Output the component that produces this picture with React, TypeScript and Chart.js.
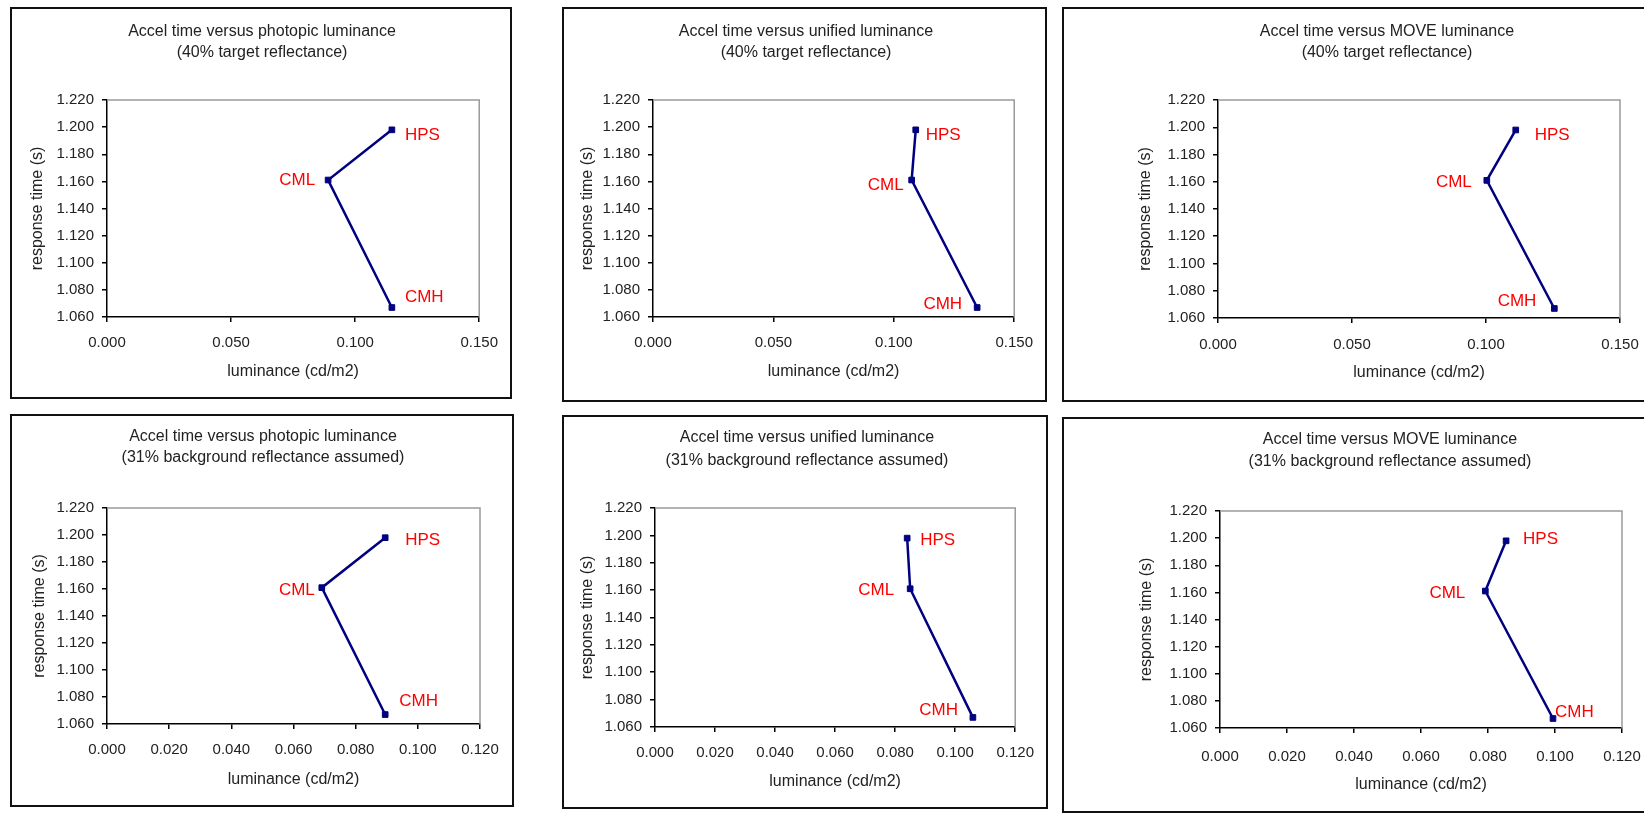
import React, { useEffect, useRef } from 'react';
import { Chart, registerables } from 'chart.js';

Chart.register(...registerables);

// ---------- data ----------
const pointNames = ['HPS', 'CML', 'CMH'];
const responseTimes = [1.198, 1.161, 1.067];

const photopic40 = [0.1148, 0.0891, 0.1148];
const unified40 = [0.1091, 0.1074, 0.1346];
const move40 = [0.1111, 0.1003, 0.1255];
const photopic31 = [0.0895, 0.0691, 0.0895];
const unified31 = [0.084, 0.085, 0.1059];
const move31 = [0.0854, 0.0792, 0.0994];

const yTickValues = [1.06, 1.08, 1.1, 1.12, 1.14, 1.16, 1.18, 1.2, 1.22];
const xTicks40 = [0, 0.05, 0.1, 0.15];
const xTicks31 = [0, 0.02, 0.04, 0.06, 0.08, 0.1, 0.12];

const titleTop40 = [
  'Accel time versus photopic luminance',
  'Accel time versus unified luminance',
  'Accel time versus MOVE luminance',
];
const subtitle40 = '(40% target reflectance)';
const subtitle31 = '(31% background reflectance assumed)';
const xAxisTitle = 'luminance (cd/m2)';
const yAxisTitle = 'response time (s)';

// ---------- layout / style ----------
type Offset = [number, number, CanvasTextAlign];
type Panel = {
  title: string[];
  xs: number[];
  xTicks: number[];
  box: [number, number, number, number];
  plot: [number, number, number, number];
  titlePos: [number, number, number];
  yTitleX: number;
  xTickY: number;
  xTitleY: number;
  offsets: Offset[];
};

const panels: Panel[] = [
  {
    title: [titleTop40[0], subtitle40], xs: photopic40, xTicks: xTicks40,
    box: [10, 7, 502, 392], plot: [107, 100, 480, 317], titlePos: [262, 32, 53],
    yTitleX: 38, xTickY: 343, xTitleY: 372,
    offsets: [[13, 5, 'left'], [-13, 0, 'right'], [13, -10, 'left']],
  },
  {
    title: [titleTop40[1], subtitle40], xs: unified40, xTicks: xTicks40,
    box: [562, 7, 485, 395], plot: [653, 100, 1017, 317], titlePos: [806, 32, 53],
    yTitleX: 588, xTickY: 343, xTitleY: 372,
    offsets: [[10, 5, 'left'], [-8, 5, 'right'], [-15, -3, 'right']],
  },
  {
    title: [titleTop40[2], subtitle40], xs: move40, xTicks: xTicks40,
    box: [1062, 7, 638, 395], plot: [1218, 100, 1620, 318], titlePos: [1387, 32, 53],
    yTitleX: 1146, xTickY: 345, xTitleY: 373,
    offsets: [[19, 5, 'left'], [-15, 2, 'right'], [-18, -7, 'right']],
  },
  {
    title: [titleTop40[0], subtitle31], xs: photopic31, xTicks: xTicks31,
    box: [10, 414, 504, 393], plot: [107, 508, 480, 724], titlePos: [263, 437, 458],
    yTitleX: 40, xTickY: 750, xTitleY: 780,
    offsets: [[20, 3, 'left'], [-7, 3, 'right'], [14, -13, 'left']],
  },
  {
    title: [titleTop40[1], subtitle31], xs: unified31, xTicks: xTicks31,
    box: [562, 415, 486, 394], plot: [655, 508, 1018, 727], titlePos: [807, 438, 461],
    yTitleX: 588, xTickY: 753, xTitleY: 782,
    offsets: [[13, 2, 'left'], [-16, 2, 'right'], [-15, -7, 'right']],
  },
  {
    title: [titleTop40[2], subtitle31], xs: move31, xTicks: xTicks31,
    box: [1062, 417, 638, 396], plot: [1220, 511, 1622, 728], titlePos: [1390, 440, 462],
    yTitleX: 1147, xTickY: 757, xTitleY: 785,
    offsets: [[17, -2, 'left'], [-20, 2, 'right'], [2, -6, 'left']],
  },
];

const FONT = "'Liberation Sans', Arial, Helvetica, sans-serif";
const TEXT = '#222222';
const NAVY = '#000080';
const RED = '#ff0000';
const BORDER = 2;
const TICK_LEN = 5;

function ChartPanel({ p }: { p: Panel }) {
  const ref = useRef<HTMLCanvasElement>(null);

  useEffect(() => {
    const canvas = ref.current;
    if (!canvas) return;
    const [bx, by, bw, bh] = p.box;
    const cx = bx + BORDER;
    const cy = by + BORDER;
    const cw = bw - 2 * BORDER;
    const ch = bh - 2 * BORDER;
    const [pl, pt, pr, pb] = p.plot;

    const tickFont = 15;
    const titleFont = 16;
    const titleLH = titleFont * 1.2;

    const framePlugin = {
      id: 'frame',
      beforeDatasetsDraw(chart: any) {
        const { ctx, chartArea: a } = chart;
        ctx.save();
        ctx.strokeStyle = '#9a9a9a';
        ctx.lineWidth = 1.5;
        ctx.beginPath();
        ctx.moveTo(a.left, a.top);
        ctx.lineTo(a.right, a.top);
        ctx.lineTo(a.right, a.bottom);
        ctx.stroke();
        ctx.restore();
      },
    };

    const labelPlugin = {
      id: 'pointLabels',
      afterDatasetsDraw(chart: any) {
        const { ctx } = chart;
        const meta = chart.getDatasetMeta(0);
        ctx.save();
        ctx.font = `17px ${FONT}`;
        ctx.fillStyle = RED;
        ctx.textBaseline = 'middle';
        meta.data.forEach((el: any, i: number) => {
          const [dx, dy, align] = p.offsets[i];
          ctx.textAlign = align;
          ctx.fillText(pointNames[i], el.x + dx, el.y + dy);
        });
        ctx.restore();
      },
    };

    const titlePlugin = {
      id: 'panelTitle',
      afterDraw(chart: any) {
        const { ctx } = chart;
        ctx.save();
        ctx.font = `${titleFont}px ${FONT}`;
        ctx.fillStyle = TEXT;
        ctx.textAlign = 'center';
        ctx.textBaseline = 'middle';
        ctx.fillText(p.title[0], p.titlePos[0] - cx, p.titlePos[1] - cy);
        ctx.fillText(p.title[1], p.titlePos[0] - cx, p.titlePos[2] - cy);
        ctx.restore();
      },
    };

    const xMin = p.xTicks[0];
    const xMax = p.xTicks[p.xTicks.length - 1];
    const xStep = p.xTicks[1] - p.xTicks[0];
    const yMin = yTickValues[0];
    const yMax = yTickValues[yTickValues.length - 1];
    const yStep = yTickValues[1] - yTickValues[0];

    const chart = new Chart(canvas, {
      type: 'scatter',
      data: {
        datasets: [
          {
            data: p.xs.map((x, i) => ({ x, y: responseTimes[i] })),
            showLine: true,
            borderColor: NAVY,
            backgroundColor: NAVY,
            borderWidth: 2.5,
            pointStyle: 'rect',
            pointRadius: 4,
            pointBorderWidth: 1,
            pointBorderColor: NAVY,
            clip: false,
          } as any,
        ],
      },
      options: {
        responsive: false,
        maintainAspectRatio: false,
        animation: false,
        layout: {
          padding: { left: 0, top: pt - cy, right: cx + cw - pr, bottom: 0 },
        },
        plugins: {
          legend: { display: false },
          tooltip: { enabled: false },
          title: { display: false },
        },
        scales: {
          x: {
            type: 'linear',
            min: xMin,
            max: xMax,
            ticks: {
              stepSize: xStep,
              callback: (v: any) => Number(v).toFixed(3),
              font: { family: FONT, size: tickFont },
              color: TEXT,
              padding: p.xTickY - pb - TICK_LEN - (tickFont * 1.2) / 2,
              maxRotation: 0,
              autoSkip: false,
            },
            grid: {
              display: true,
              drawOnChartArea: false,
              drawTicks: true,
              tickLength: TICK_LEN,
              color: '#000',
              lineWidth: 1.5,
            },
            border: { display: true, color: '#000', width: 1.5 },
            title: {
              display: true,
              text: xAxisTitle,
              font: { family: FONT, size: titleFont },
              color: TEXT,
              padding: { top: 0, bottom: cy + ch - p.xTitleY - titleLH / 2 },
            },
            afterFit: (s: any) => {
              s.height = cy + ch - pb;
            },
          },
          y: {
            type: 'linear',
            min: yMin,
            max: yMax,
            ticks: {
              stepSize: yStep,
              callback: (v: any) => Number(v).toFixed(3),
              font: { family: FONT, size: tickFont },
              color: TEXT,
              padding: 8,
              autoSkip: false,
            },
            grid: {
              display: true,
              drawOnChartArea: false,
              drawTicks: true,
              tickLength: TICK_LEN,
              color: '#000',
              lineWidth: 1.5,
            },
            border: { display: true, color: '#000', width: 1.5 },
            title: {
              display: true,
              text: yAxisTitle,
              font: { family: FONT, size: titleFont },
              color: TEXT,
              padding: { top: p.yTitleX - cx - titleLH / 2, bottom: 0 },
            },
            afterFit: (s: any) => {
              s.width = pl - cx;
            },
          },
        },
      } as any,
      plugins: [framePlugin, labelPlugin, titlePlugin],
    });

    return () => chart.destroy();
  }, [p]);

  const [bx, by, bw, bh] = p.box;
  return (
    <div
      style={{
        position: 'absolute',
        left: bx,
        top: by,
        width: bw,
        height: bh,
        boxSizing: 'border-box',
        border: `${BORDER}px solid #111`,
        background: '#fff',
      }}
    >
      <canvas
        ref={ref}
        width={bw - 2 * BORDER}
        height={bh - 2 * BORDER}
        style={{ display: 'block', width: bw - 2 * BORDER, height: bh - 2 * BORDER }}
      />
    </div>
  );
}

export default function App() {
  return (
    <div
      style={{
        position: 'absolute',
        left: 0,
        top: 0,
        width: 1644,
        height: 816,
        overflow: 'hidden',
        background: '#fff',
      }}
    >
      {panels.map((p, i) => (
        <ChartPanel key={i} p={p} />
      ))}
    </div>
  );
}
